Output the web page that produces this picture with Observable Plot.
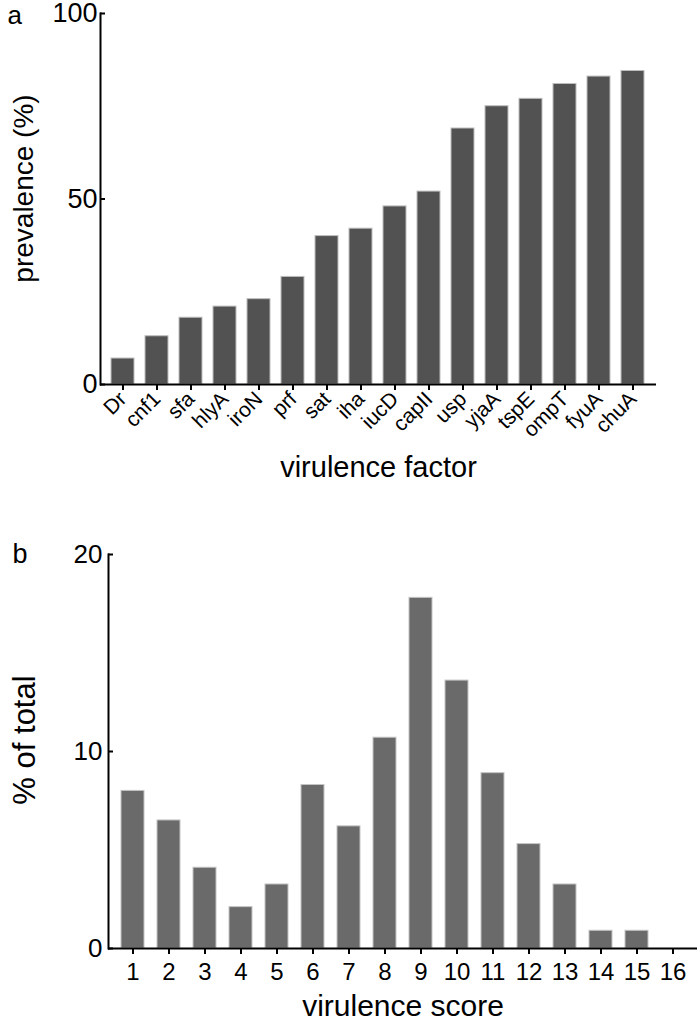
<!DOCTYPE html>
<html>
<head>
<meta charset="utf-8">
<script src="https://cdn.jsdelivr.net/npm/d3@7"></script>
<script src="https://cdn.jsdelivr.net/npm/@observablehq/plot@0.6"></script>
<style>
  body { margin: 0; background: #fff; }
  #chart svg { display: block; }
</style>
</head>
<body>
<div id="chart"></div>
<script>
// ---- data ----
const factors = ["Dr","cnf1","sfa","hlyA","iroN","prf","sat","iha","iucD","capII","usp","yjaA","tspE","ompT","fyuA","chuA"];
const prevalence = [7, 13, 18, 21, 23, 29, 40, 42, 48, 52, 69, 75, 77, 81, 83, 84.5];
const yTicksA = [0, 50, 100];

const scores = ["1","2","3","4","5","6","7","8","9","10","11","12","13","14","15","16"];
const scorePercent = [8.0, 6.5, 4.1, 2.1, 3.25, 8.3, 6.2, 10.7, 17.8, 13.6, 8.9, 5.3, 3.25, 0.9, 0.9, 0];
const yTicksB = [0, 10, 20];

const FONT = "'Liberation Sans', Arial, Helvetica, sans-serif";

const dataA = factors.map((f, i) => ({factor: f, value: prevalence[i]}));
const dataB = scores.map((s, i) => ({score: s, value: scorePercent[i]}));

// ---- panel a ----
const plotA = Plot.plot({
  width: 700,
  height: 500,
  marginTop: 13,
  marginBottom: 116,
  marginLeft: 100,
  marginRight: 44,
  style: {fontFamily: FONT, background: "#fff", color: "#000", overflow: "visible"},
  x: {domain: factors, paddingInner: 0.32, paddingOuter: 0.16, label: null},
  y: {domain: [0, 100], label: null},
  marks: [
    Plot.barY(dataA, {x: "factor", y: "value", fill: "#525252", stroke: "#bdbdbd", strokeWidth: 1}),
    Plot.ruleY([0], {stroke: "#000", strokeWidth: 2}),
    Plot.frame({anchor: "left", stroke: "#000", strokeWidth: 2}),
    Plot.axisX({tickRotate: -45, tickSize: 6, tickPadding: 5, fontSize: 21, label: null, strokeWidth: 2}),
    Plot.axisY({ticks: yTicksA, tickSize: -5, tickPadding: 8, fontSize: 27, label: null, strokeWidth: 2}),
    Plot.text(["a"], {text: d => d, frameAnchor: "top-left", textAnchor: "start", lineAnchor: "middle", dx: -93, dy: 2.5, fontSize: 26}),
    Plot.text(["prevalence (%)"], {text: d => d, frameAnchor: "left", rotate: -90, textAnchor: "middle", lineAnchor: "middle", dx: -76, dy: -10.5, fontSize: 28}),
    Plot.text(["virulence factor"], {text: d => d, frameAnchor: "bottom", textAnchor: "middle", lineAnchor: "middle", dy: 83.7, fontSize: 29})
  ]
});

// ---- panel b ----
const plotB = Plot.plot({
  width: 700,
  height: 522,
  marginTop: 54,
  marginBottom: 74,
  marginLeft: 108,
  marginRight: 3,
  style: {fontFamily: FONT, background: "#fff", color: "#000", overflow: "visible"},
  x: {domain: scores, paddingInner: 0.35, paddingOuter: 0.175, label: null},
  y: {domain: [0, 20], label: null},
  marks: [
    Plot.barY(dataB, {x: "score", y: "value", fill: "#6a6a6a", stroke: "#c4c4c4", strokeWidth: 1}),
    Plot.ruleY([0], {stroke: "#000", strokeWidth: 2}),
    Plot.frame({anchor: "left", stroke: "#000", strokeWidth: 2}),
    Plot.axisX({tickSize: 6, tickPadding: 8, fontSize: 24, label: null, strokeWidth: 2}),
    Plot.axisY({ticks: yTicksB, tickSize: -5, tickPadding: 11, fontSize: 26, label: null, strokeWidth: 2}),
    Plot.text(["b"], {text: d => d, frameAnchor: "top-left", textAnchor: "start", lineAnchor: "middle", dx: -96, dy: 0, fontSize: 27}),
    Plot.text(["% of total"], {text: d => d, frameAnchor: "left", rotate: -90, textAnchor: "middle", lineAnchor: "middle", dx: -83, dy: -11.5, fontSize: 31}),
    Plot.text(["virulence score"], {text: d => d, frameAnchor: "bottom", textAnchor: "middle", lineAnchor: "middle", dy: 57.5, fontSize: 30})
  ]
});

const root = document.getElementById("chart");
root.appendChild(plotA);
root.appendChild(plotB);
</script>
</body>
</html>
